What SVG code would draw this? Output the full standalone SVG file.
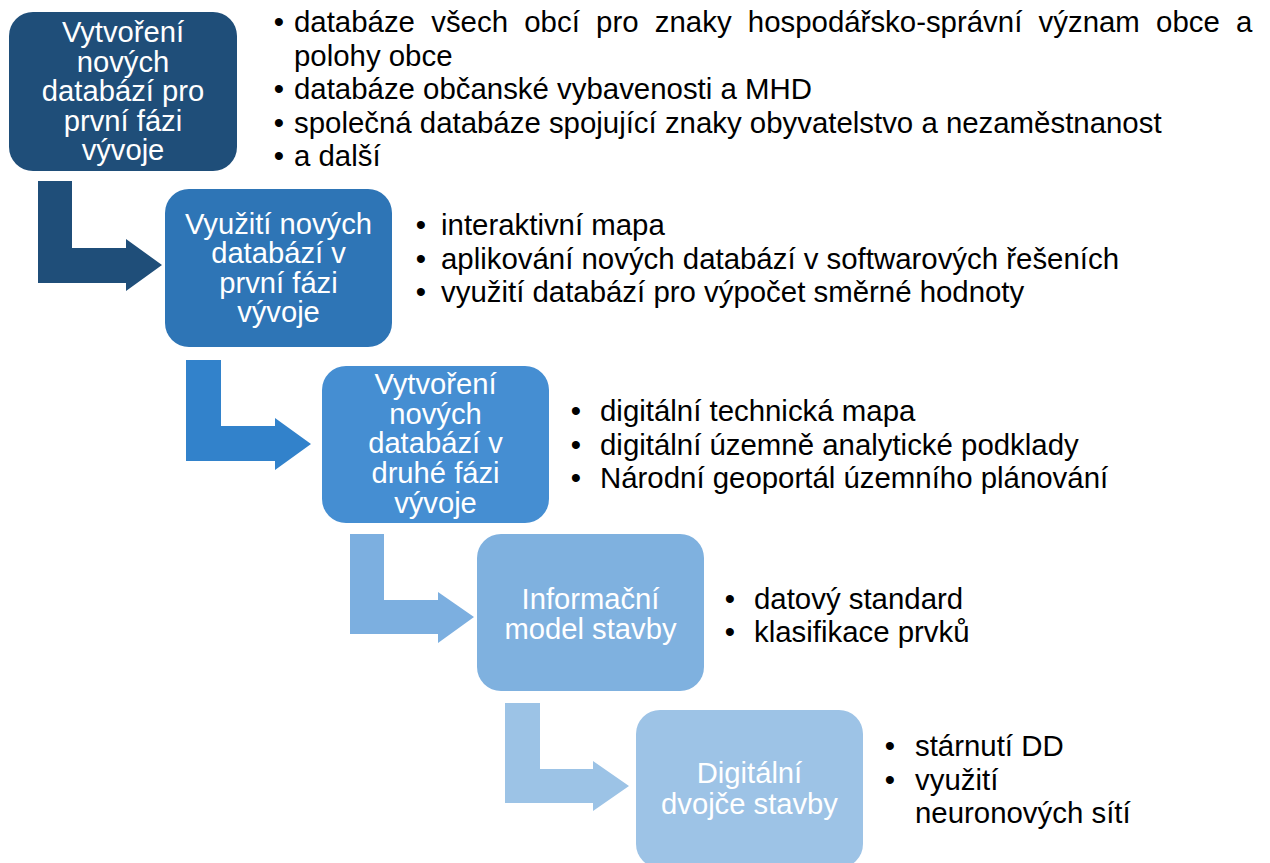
<svg xmlns="http://www.w3.org/2000/svg" width="1270" height="863" viewBox="0 0 1270 863">
<style>
.bt{font-family:"Liberation Sans",Arial,sans-serif;font-size:29.2px;fill:#ffffff;text-anchor:middle}
.lt{font-family:"Liberation Sans",Arial,sans-serif;font-size:29.4px;fill:#000000}
.bu{font-family:"Liberation Sans",Arial,sans-serif;font-size:29.4px;fill:#000000;text-anchor:middle}
</style>
<rect width="1270" height="863" fill="#ffffff"/>
<g id="connectors">
<polygon points="38,181 72,181 72,248 126,248 126,239 162,265 126,291 126,283 38,283" fill="#1f4e79"/>
<polygon points="186,360 221,360 221,426 275,426 275,418 311,444 275,470 275,461 186,461" fill="#3282cb"/>
<polygon points="350,534 384,534 384,600 438,600 438,592 474,617 438,643 438,634 350,634" fill="#7cafe0"/>
<polygon points="505,703 540,703 540,769 593,769 593,761 629,786 593,811 593,803 505,803" fill="#9cc3e6"/>
</g>
<g id="node1">
<rect x="9" y="12" width="228" height="159" rx="24" fill="#1f4e79"/>
<text class="bt" x="123" y="42">Vytvoření</text>
<text class="bt" x="123" y="71.5">nových</text>
<text class="bt" x="123" y="101">databází pro</text>
<text class="bt" x="123" y="130.5">první fázi</text>
<text class="bt" x="123" y="160">vývoje</text>
</g>
<g id="list1">
<text class="bu" x="279" y="32">•</text>
<text class="lt" x="294" y="32" word-spacing="8.1">databáze všech obcí pro znaky hospodářsko-správní význam obce a</text>
<text class="lt" x="294" y="65.5">polohy obce</text>
<text class="bu" x="279" y="99">•</text>
<text class="lt" x="294" y="99">databáze občanské vybavenosti a MHD</text>
<text class="bu" x="279" y="132.5">•</text>
<text class="lt" x="294" y="132.5">společná databáze spojující znaky obyvatelstvo a nezaměstnanost</text>
<text class="bu" x="279" y="166">•</text>
<text class="lt" x="294" y="166">a další</text>
</g>
<g id="node2">
<rect x="165" y="189" width="227" height="158" rx="24" fill="#2e75b6"/>
<text class="bt" x="278.5" y="234">Využití nových</text>
<text class="bt" x="278.5" y="263">databází v</text>
<text class="bt" x="278.5" y="293">první fázi</text>
<text class="bt" x="278.5" y="322">vývoje</text>
</g>
<g id="list2">
<text class="bu" x="421" y="235">•</text>
<text class="lt" x="441" y="235">interaktivní mapa</text>
<text class="bu" x="421" y="268.5">•</text>
<text class="lt" x="441" y="268.5">aplikování nových databází v softwarových řešeních</text>
<text class="bu" x="421" y="302">•</text>
<text class="lt" x="441" y="302">využití databází pro výpočet směrné hodnoty</text>
</g>
<g id="node3">
<rect x="322" y="366" width="227" height="157" rx="24" fill="#458ed2"/>
<text class="bt" x="435.5" y="394">Vytvoření</text>
<text class="bt" x="435.5" y="424">nových</text>
<text class="bt" x="435.5" y="453">databází v</text>
<text class="bt" x="435.5" y="483">druhé fázi</text>
<text class="bt" x="435.5" y="513">vývoje</text>
</g>
<g id="list3">
<text class="bu" x="576" y="421">•</text>
<text class="lt" x="600" y="421">digitální technická mapa</text>
<text class="bu" x="576" y="454.5">•</text>
<text class="lt" x="600" y="454.5">digitální územně analytické podklady</text>
<text class="bu" x="576" y="488">•</text>
<text class="lt" x="600" y="488">Národní geoportál územního plánování</text>
</g>
<g id="node4">
<rect x="477" y="534" width="227" height="157" rx="24" fill="#7fb1df"/>
<text class="bt" x="590.5" y="609">Informační</text>
<text class="bt" x="590.5" y="639">model stavby</text>
</g>
<g id="list4">
<text class="bu" x="730" y="609">•</text>
<text class="lt" x="754" y="609">datový standard</text>
<text class="bu" x="730" y="642">•</text>
<text class="lt" x="754" y="642">klasifikace prvků</text>
</g>
<g id="node5">
<rect x="636" y="710" width="227" height="158" rx="24" fill="#9dc3e6"/>
<text class="bt" x="749.5" y="783">Digitální</text>
<text class="bt" x="749.5" y="814">dvojče stavby</text>
</g>
<g id="list5">
<text class="bu" x="890" y="756">•</text>
<text class="lt" x="915" y="756">stárnutí DD</text>
<text class="bu" x="890" y="789.5">•</text>
<text class="lt" x="915" y="789.5">využití</text>
<text class="lt" x="915" y="823">neuronových sítí</text>
</g>
</svg>
